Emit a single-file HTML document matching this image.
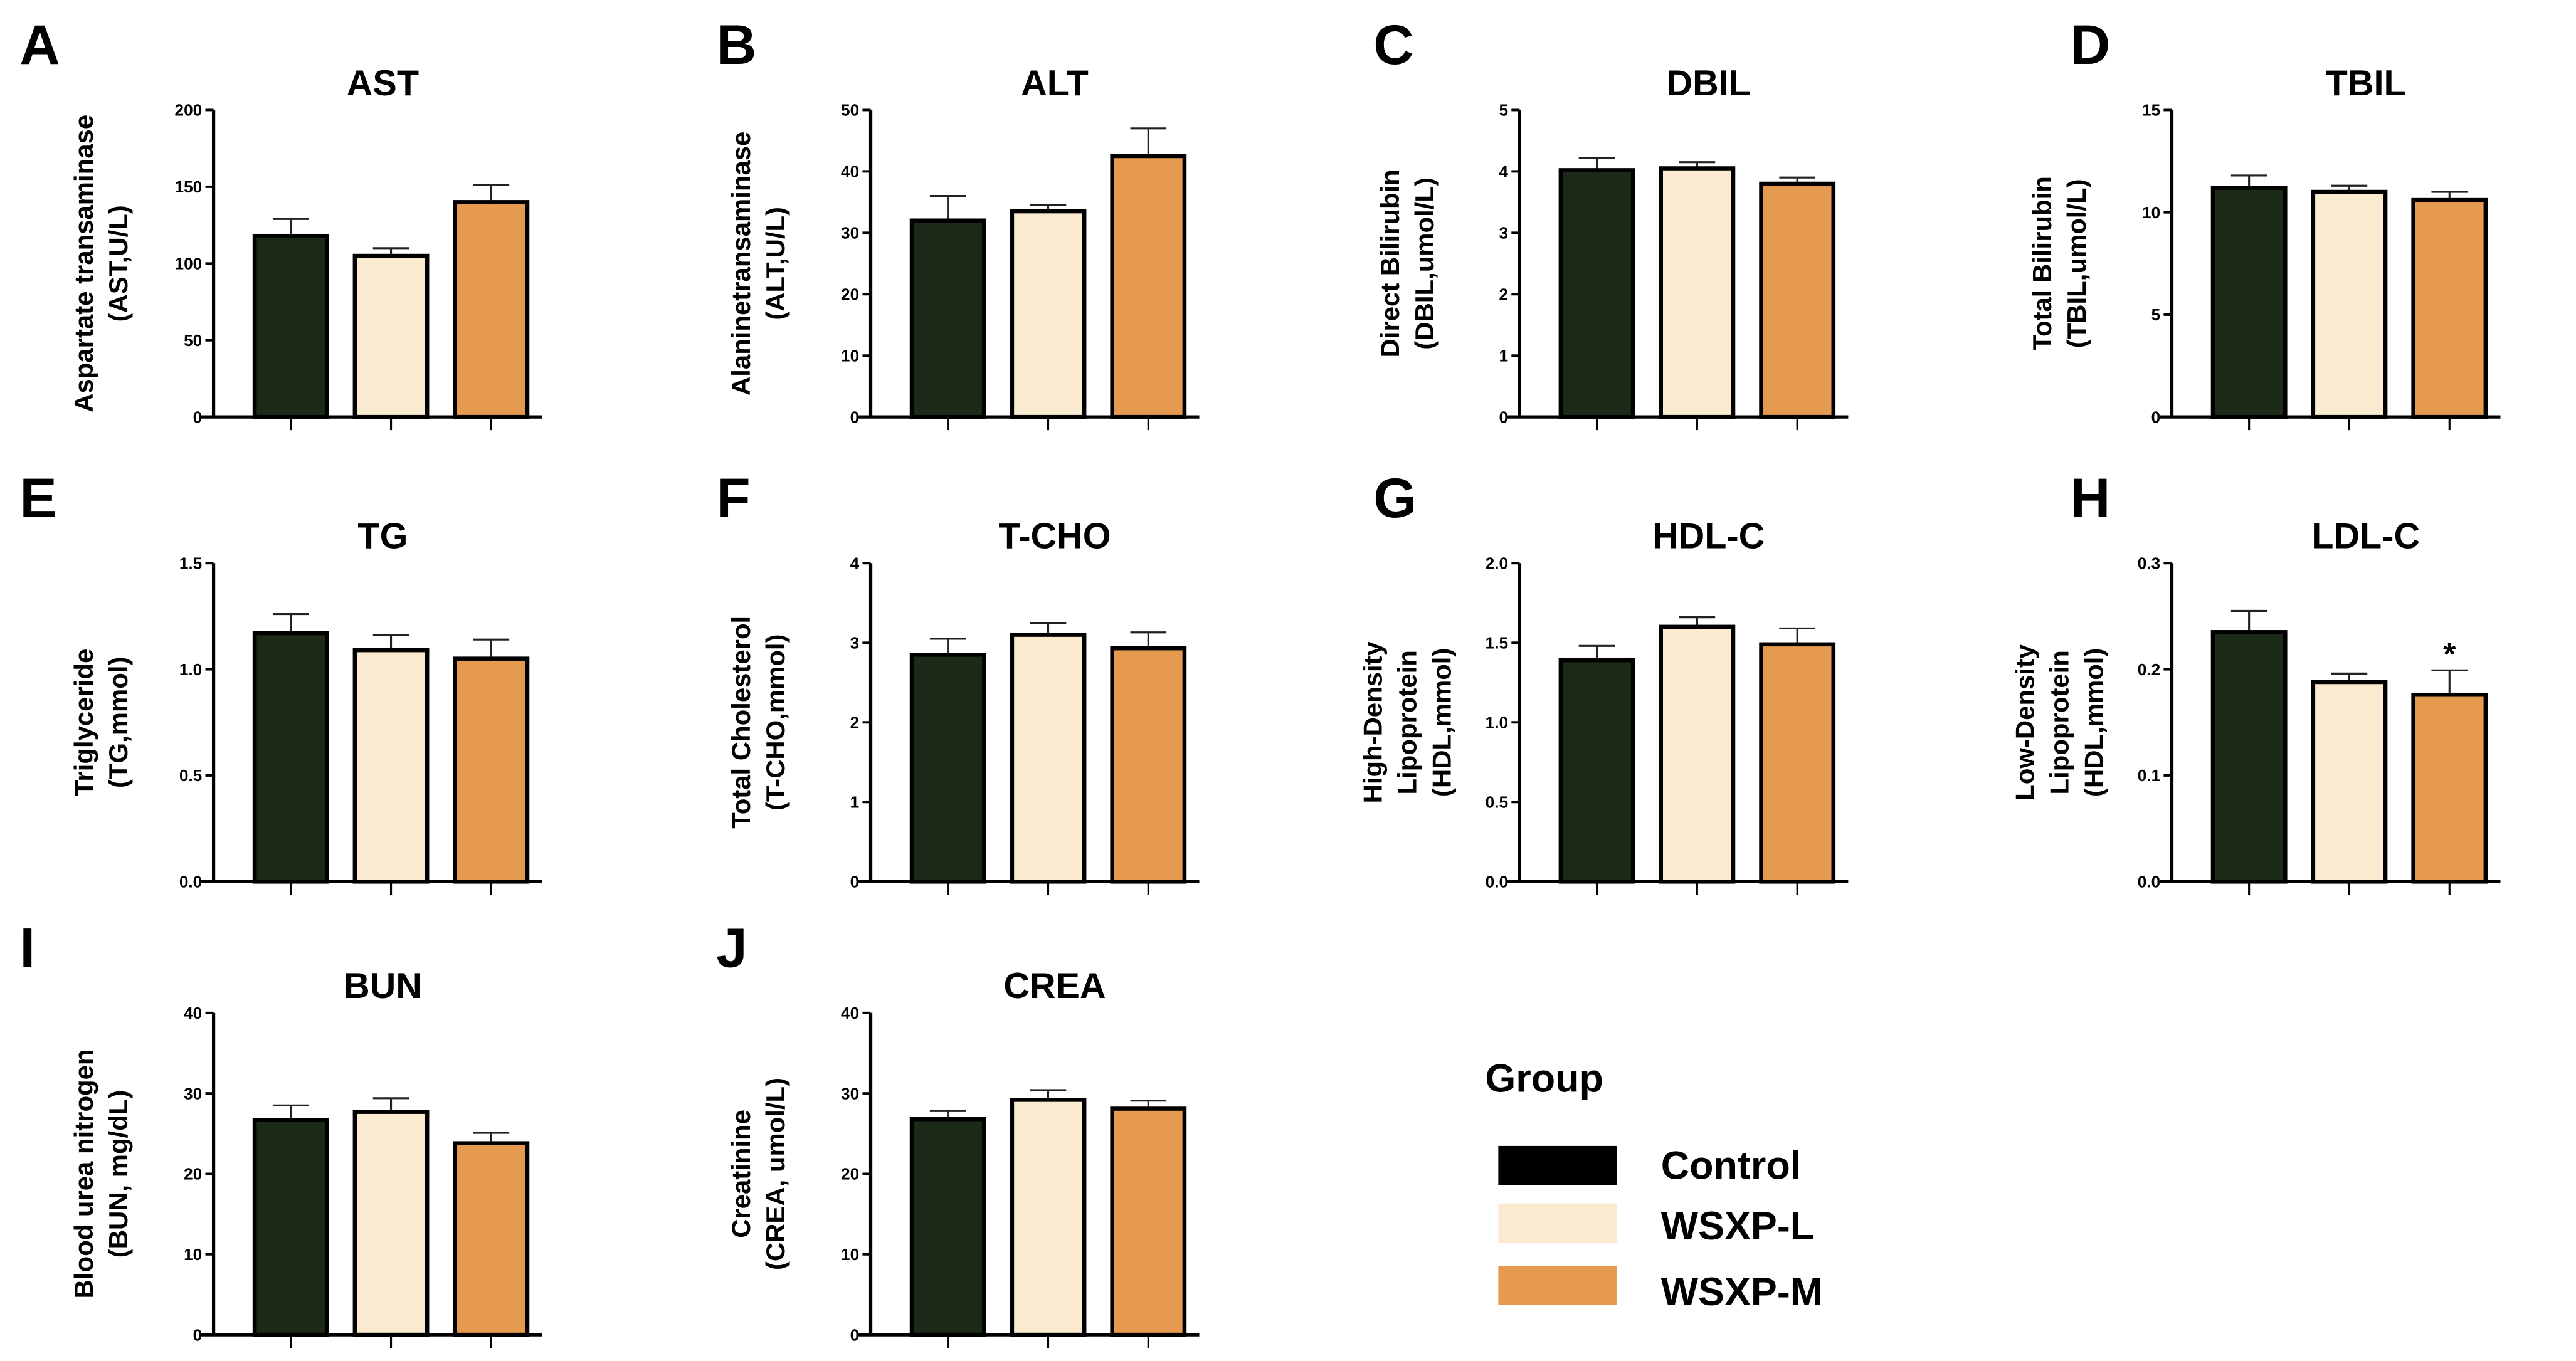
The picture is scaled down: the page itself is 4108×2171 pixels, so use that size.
<!DOCTYPE html>
<html><head><meta charset="utf-8">
<style>
html,body{margin:0;padding:0;background:#fff;}
svg{display:block;}
text{font-family:"Liberation Sans",sans-serif;font-weight:bold;fill:#000;}
</style></head>
<body>
<svg id="fig" width="4108" height="2171" viewBox="0 0 1568 829" preserveAspectRatio="none" xmlns="http://www.w3.org/2000/svg">
<g id="legend">
  <text x="904" y="665" font-size="24">Group</text>
  <rect x="912" y="698" width="72" height="24" fill="#000"/>
  <rect x="912" y="733" width="72" height="24" fill="#faebd0"/>
  <rect x="912" y="771" width="72" height="24" fill="#e59a50"/>
  <text x="1011" y="718" font-size="24">Control</text>
  <text x="1011" y="755" font-size="24">WSXP-L</text>
  <text x="1011" y="795" font-size="24">WSXP-M</text>
</g>
</svg>
<script>
const panelLetters = ["A","B","C","D","E","F","G","H","I","J"];
const panelTitles = ["AST","ALT","DBIL","TBIL","TG","T-CHO","HDL-C","LDL-C","BUN","CREA"];
const yLabels = [
  ["Aspartate transaminase","(AST,U/L)"],
  ["Alaninetransaminase","(ALT,U/L)"],
  ["Direct Bilirubin","(DBIL,umol/L)"],
  ["Total Bilirubin","(TBIL,umol/L)"],
  ["Triglyceride","(TG,mmol)"],
  ["Total Cholesterol","(T-CHO,mmol)"],
  ["High-Density","Lipoprotein","(HDL,mmol)"],
  ["Low-Density","Lipoprotein","(HDL,mmol)"],
  ["Blood urea nitrogen","(BUN, mg/dL)"],
  ["Creatinine","(CREA, umol/L)"]
];
const groups = ["Control","WSXP-L","WSXP-M"];
const controlMeans = [118, 32, 4.02, 11.2, 1.17, 2.85, 1.39, 0.235, 26.7, 26.8];
const controlErr   = [11, 4, 0.2, 0.6, 0.09, 0.2, 0.09, 0.02, 1.8, 1.0];
const lowMeans     = [105, 33.5, 4.05, 11.0, 1.09, 3.1, 1.6, 0.188, 27.7, 29.2];
const lowErr       = [5, 1, 0.1, 0.3, 0.07, 0.15, 0.06, 0.008, 1.7, 1.2];
const midMeans     = [140, 42.5, 3.8, 10.6, 1.05, 2.93, 1.49, 0.176, 23.8, 28.1];
const midErr       = [11, 4.5, 0.1, 0.4, 0.09, 0.2, 0.1, 0.023, 1.3, 1.0];
const yMax   = [200, 50, 5, 15, 1.5, 4, 2.0, 0.3, 40, 40];
const yStep  = [50, 10, 1, 5, 0.5, 1, 0.5, 0.1, 10, 10];
const yDecimals = [0,0,0,0,1,0,1,1,0,0];
const significance = ["","","","","","","","*","",""];

const NS="http://www.w3.org/2000/svg";
const svg=document.getElementById('fig');
const colors=["#1c2a18","#faebd0","#e59a50"];
const axisXs=[130,530,925,1322];
const letterXs=[12,436,836,1260];
const titleOffsets=[103,112,115,118];
const rowTops=[67,343,617], rowBottoms=[254,537,813];
function mk(tag,attrs,parent){const e=document.createElementNS(NS,tag);for(const k in attrs)e.setAttribute(k,attrs[k]);(parent||svg).appendChild(e);return e;}

for(let p=0;p<10;p++){
  const col=p%4,row=Math.floor(p/4);
  const ax=axisXs[col], top=rowTops[row], bot=rowBottoms[row];
  const yScale=v=>bot-(v/yMax[p])*(bot-top);
  const xCenter=i=>ax+47+i*61;
  const g=mk('g',{});
  
  
  const letter=mk('text',{x:letterXs[col],y:top-28,'font-size':34},g);letter.textContent=panelLetters[p];
  
  
  const title=mk('text',{x:ax+titleOffsets[col],y:top-9,'font-size':22,'text-anchor':'middle'},g);title.textContent=panelTitles[p];
  
  
  const lines=yLabels[p];
  const cy=(top+bot)/2;
  const lh=21;
  lines.forEach((ln,i)=>{
    const x=ax-70-(lines.length-1)*lh/2+i*lh+7;
    const t=mk('text',{x:x,y:cy,'font-size':16,'text-anchor':'middle',transform:`rotate(-90 ${x} ${cy})`},g);
    t.textContent=ln;
    
    
  });
  const yaxis=mk('line',{x1:ax,y1:top,x2:ax,y2:bot,stroke:'#000','stroke-width':2},g);
  
  
  const xaxis=mk('line',{x1:ax-8,y1:bot,x2:ax+200,y2:bot,stroke:'#000','stroke-width':2},g);
  
  
  const nT=Math.round(yMax[p]/yStep[p]);
  for(let k=0;k<=nT;k++){
    const v=k*yStep[p], y=yScale(v);
    mk('line',{x1:ax-5,y1:y,x2:ax,y2:y,stroke:'#000','stroke-width':1.5},g);
    const t=mk('text',{x:ax-7,y:y+3.5,'font-size':10,'text-anchor':'end'},g);
    t.textContent=v.toFixed(yDecimals[p]);
    
    
  }
  const means=[controlMeans[p],lowMeans[p],midMeans[p]];
  const errs=[controlErr[p],lowErr[p],midErr[p]];
  for(let i=0;i<3;i++){
    const cx=xCenter(i), yv=yScale(means[i]), ye=yScale(means[i]+errs[i]);
    mk('line',{x1:cx,y1:bot,x2:cx,y2:bot+8,stroke:'#000','stroke-width':1.2},g);
    const eb=mk('line',{x1:cx,y1:yv,x2:cx,y2:ye,stroke:'#222','stroke-width':1.2},g);
    
    
    mk('line',{x1:cx-11,y1:ye,x2:cx+11,y2:ye,stroke:'#222','stroke-width':1.2},g);
    const r=mk('rect',{x:cx-22,y:yv,width:44,height:bot-yv,fill:colors[i],stroke:'#000','stroke-width':2.5},g);
    
    
  }
  if(significance[p]){
    const s=mk('text',{x:xCenter(2),y:yScale(midMeans[p]+midErr[p])-3,'font-size':20,'text-anchor':'middle'},g);
    s.textContent=significance[p];
    
    
  }
}
</script>
</body></html>
